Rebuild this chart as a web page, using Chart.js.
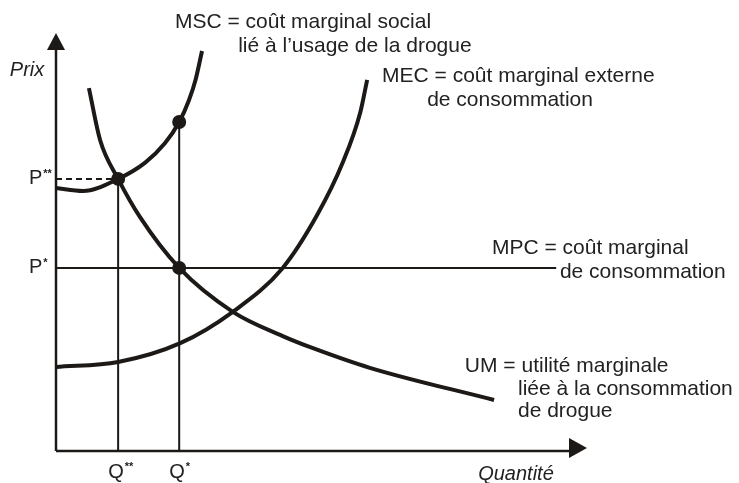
<!DOCTYPE html>
<html>
<head>
<meta charset="utf-8">
<script src="https://cdn.jsdelivr.net/npm/chart.js@4"></script>
<style>
  html, body { margin: 0; padding: 0; background: #fff; }
  canvas { display: block; }
</style>
</head>
<body>
<canvas id="chart" width="739" height="483"></canvas>
<script>
// Levels (arbitrary units, axes from 0 to 100)
const qStar2 = 11.7;   // Q**
const qStar1 = 23.2;   // Q*
const pStar2 = 65.1;   // P**
const pStar1 = 43.8;   // P*
const mscTop = 78.7;   // MSC at Q*
const mpcEnd = 94.2;

// MSC = coût marginal social
const mscX = [0, 5.1, 11.7, 16.8, 20.5, 23.2, 25.0, 26.3, 27.5];
const mscY = [62.9, 62.2, 65.1, 69.0, 73.6, 78.7, 83.8, 88.9, 95.7];

// UM = utilité marginale
const umX = [6.2, 8.3, 11.7, 15.8, 23.2, 33.3, 42.7, 48.4, 59.1, 82.5];
const umY = [86.8, 74.4, 65.1, 56.0, 43.8, 33.3, 27.5, 24.6, 19.9, 12.2];

// MEC = coût marginal externe
const mecX = [0, 11.7, 23.4, 33.3, 42.7, 49.2, 54.0, 57.3, 58.6];
const mecY = [20.1, 21.3, 25.8, 33.3, 43.8, 56.5, 69.0, 81.0, 88.8];

const ink = '#1c1917';
const toPts = (xs, ys) => xs.map((x, i) => ({ x: x, y: ys[i] }));

// text labels: [text, x, y, font]
const labels = [
    ['MSC = coût marginal social', 22.4, 102.6, '21px "Liberation Sans", Arial'],
    ['lié à l\u2019usage de la drogue', 34.3, 96.9, '21px "Liberation Sans", Arial'],
    ['MEC = coût marginal externe', 61.4, 89.7, '21px "Liberation Sans", Arial'],
    ['de consommation', 69.9, 84.0, '21px "Liberation Sans", Arial'],
    ['MPC = coût marginal', 82.1, 48.6, '21px "Liberation Sans", Arial'],
    ['de consommation', 94.9, 42.8, '21px "Liberation Sans", Arial'],
    ['UM = utilité marginale', 77.0, 20.3, '21px "Liberation Sans", Arial'],
    ['liée à la consommation', 87.0, 14.8, '21px "Liberation Sans", Arial'],
    ['de drogue', 87.0, 9.6, '21px "Liberation Sans", Arial'],
    ['Prix', -8.7, 91.1, 'italic 20px "Liberation Sans", Arial'],
    ['Quantité', 79.5, -5.5, 'italic 20px "Liberation Sans", Arial']
];

// axis marks: [letter, stars, value, axis]
const axisMarks = [
    ['P', '**', pStar2, 'y'],
    ['P', '*', pStar1, 'y'],
    ['Q', '**', qStar2, 'x'],
    ['Q', '*', qStar1, 'x']
];

const decor = {
    id: 'decor',
    beforeDatasetsDraw(chart) {
        const ctx = chart.ctx;
        const xs = chart.scales.x, ys = chart.scales.y;
        const x0 = xs.getPixelForValue(0), y0 = ys.getPixelForValue(0);
        const xTip = xs.getPixelForValue(100), yTip = ys.getPixelForValue(100);
        ctx.save();
        ctx.strokeStyle = ink;
        ctx.fillStyle = ink;
        ctx.lineWidth = 2.5;
        ctx.beginPath();
        ctx.moveTo(x0, y0);
        ctx.lineTo(x0, yTip + 14);
        ctx.moveTo(x0, y0);
        ctx.lineTo(xTip - 14, y0);
        ctx.stroke();
        // arrow heads
        ctx.beginPath();
        ctx.moveTo(x0, yTip);
        ctx.lineTo(x0 - 9, yTip + 17);
        ctx.lineTo(x0 + 9, yTip + 17);
        ctx.closePath();
        ctx.fill();
        ctx.beginPath();
        ctx.moveTo(xTip, y0 - 3);
        ctx.lineTo(xTip - 18, y0 - 13);
        ctx.lineTo(xTip - 18, y0 + 7);
        ctx.closePath();
        ctx.fill();
        ctx.restore();
    },
    afterDraw(chart) {
        const ctx = chart.ctx;
        const xs = chart.scales.x, ys = chart.scales.y;
        ctx.save();
        ctx.fillStyle = '#222';
        ctx.textBaseline = 'middle';
        ctx.textAlign = 'left';
        labels.forEach(([t, x, y, f]) => {
            ctx.font = f;
            ctx.fillText(t, xs.getPixelForValue(x), ys.getPixelForValue(y));
        });
        axisMarks.forEach(([l, s, v, ax]) => {
            let px, py;
            if (ax === 'y') {
                px = 29;
                py = ys.getPixelForValue(v);
            } else {
                px = xs.getPixelForValue(v) - 10;
                py = ys.getPixelForValue(0) + 21;
            }
            ctx.font = '20px "Liberation Sans", Arial';
            ctx.fillText(l, px, py);
            const w = ctx.measureText(l).width;
            ctx.font = 'bold 11px "Liberation Sans", Arial';
            ctx.fillText(s, px + w + 1, py - 5);
        });
        ctx.restore();
    }
};

new Chart(document.getElementById('chart'), {
    type: 'scatter',
    data: {
        datasets: [
            {   // vertical guides and MPC
                data: [{ x: qStar2, y: 0 }, { x: qStar2, y: pStar2 }],
                showLine: true, borderColor: ink, borderWidth: 2, pointRadius: 0
            },
            {
                data: [{ x: qStar1, y: 0 }, { x: qStar1, y: mscTop }],
                showLine: true, borderColor: ink, borderWidth: 2, pointRadius: 0
            },
            {
                data: [{ x: 0, y: pStar2 }, { x: qStar2, y: pStar2 }],
                showLine: true, borderColor: ink, borderWidth: 2, borderDash: [6, 4], pointRadius: 0
            },
            {
                label: 'MPC',
                data: [{ x: 0, y: pStar1 }, { x: mpcEnd, y: pStar1 }],
                showLine: true, borderColor: ink, borderWidth: 2, pointRadius: 0
            },
            {
                label: 'MSC',
                data: toPts(mscX, mscY),
                showLine: true, borderColor: ink, borderWidth: 4, pointRadius: 0,
                cubicInterpolationMode: 'monotone'
            },
            {
                label: 'UM',
                data: toPts(umX, umY),
                showLine: true, borderColor: ink, borderWidth: 4, pointRadius: 0,
                cubicInterpolationMode: 'monotone'
            },
            {
                label: 'MEC',
                data: toPts(mecX, mecY),
                showLine: true, borderColor: ink, borderWidth: 4, pointRadius: 0,
                cubicInterpolationMode: 'monotone'
            },
            {   // equilibrium points
                data: [{ x: qStar2, y: pStar2 }, { x: qStar1, y: mscTop }, { x: qStar1, y: pStar1 }],
                showLine: false, pointRadius: 7, pointBackgroundColor: ink, pointBorderWidth: 0
            }
        ]
    },
    options: {
        responsive: false,
        animation: false,
        devicePixelRatio: 1,
        layout: { padding: { left: 56, right: 152, top: 33, bottom: 32 } },
        plugins: { legend: { display: false }, tooltip: { enabled: false } },
        scales: {
            x: { type: 'linear', min: 0, max: 100, display: false },
            y: { type: 'linear', min: 0, max: 100, display: false }
        },
        elements: { line: { borderCapStyle: 'butt', fill: false } },
        datasets: { scatter: { clip: false } }
    },
    plugins: [decor]
});
</script>
</body>
</html>
